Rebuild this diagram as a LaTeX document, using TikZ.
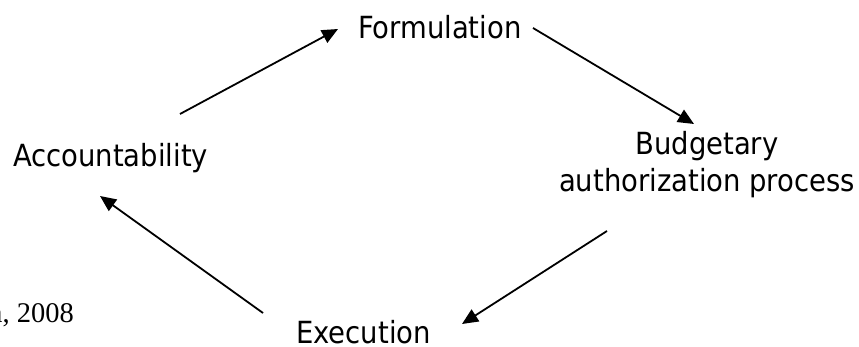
\documentclass[tikz,border=0pt]{standalone}
\usepackage{fontspec}
\setmainfont{DejaVu Sans Condensed}
\newfontfamily\citefont{Liberation Serif}
\usetikzlibrary{arrows.meta}
\begin{document}
\begin{tikzpicture}[x=1pt,y=-1pt,
  lbl/.style={font=\fontsize{30.5}{37}\selectfont, inner sep=0pt},
  citestyle/.style={font=\citefont\fontsize{28.5}{30}\selectfont, inner sep=0pt},
  conn/.style={line width=1.8pt, -{Triangle[length=16pt,width=14pt]}}]
\useasboundingbox (0,0) rectangle (859,347);
\clip (0,0) rectangle (859,347);
\node[lbl, anchor=base west] (form) at (358,39) {Formulation};
\node[lbl, anchor=base] (budg1) at (707,155) {Budgetary};
\node[lbl, anchor=base] (budg2) at (707,192) {authorization process};
\node[lbl, anchor=base west] (acc) at (13,167) {Accountability};
\node[lbl, anchor=base east] (exe) at (431,343) {Execution};
\node[citestyle, anchor=base east] (cite) at (74,322) {a, 2008};
\coordinate (a1s) at (180,114);
\coordinate (a1e) at (338,29);
\coordinate (a2s) at (533,28);
\coordinate (a2e) at (694,124);
\coordinate (a3s) at (607,231);
\coordinate (a3e) at (462,324);
\coordinate (a4s) at (263,313);
\coordinate (a4e) at (100,196);
\draw[conn] (a1s) -- (a1e);
\draw[conn] (a2s) -- (a2e);
\draw[conn] (a3s) -- (a3e);
\draw[conn] (a4s) -- (a4e);
\end{tikzpicture}
\end{document}
